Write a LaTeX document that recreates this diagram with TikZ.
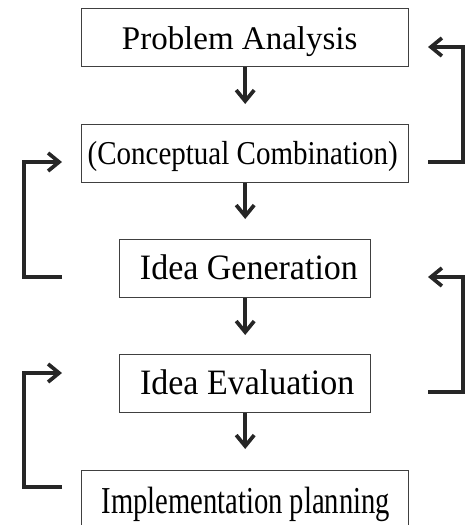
\documentclass[tikz,border=0pt]{standalone}
\usepackage{fontspec}
\setmainfont{Liberation Serif}
\usetikzlibrary{arrows.meta}
\begin{document}
\begin{tikzpicture}[x=1pt,y=-1pt,
  stepbox/.style={draw=black!75, line width=1.4pt, inner sep=0pt, anchor=north west, minimum height=58pt},
  flow/.style={draw=black!85, line width=3.7pt, -{Straight Barb[length=11pt,width=18pt,line width=3.7pt]}},
  loop/.style={flow}]
\useasboundingbox (0,0) rectangle (469,525);
\clip (0,0) rectangle (469,525);
\node[stepbox, minimum width=327pt, text height=24.6pt, text depth=2pt, font=\fontsize{33}{36}\selectfont] (b1) at (81,8) {Problem Analysis\kern11pt};
\node[stepbox, minimum width=327pt, text height=22.6pt, text depth=2pt, font=\fontsize{29}{32}\selectfont] (b2) at (81,124) {\scalebox{1}[1.15]{(Conceptual Combination)}\kern5pt};
\node[stepbox, minimum width=251pt, text height=22.6pt, text depth=2pt, font=\fontsize{34}{36}\selectfont] (b3) at (119,239) {\kern7.5pt\scalebox{1}[1.05]{Idea Generation}};
\node[stepbox, minimum width=251pt, text height=22.6pt, text depth=2pt, font=\fontsize{34}{36}\selectfont] (b4) at (119,354) {\kern4pt\scalebox{1}[1.05]{Idea Evaluation}};
\node[stepbox, minimum width=327pt, text height=30pt, text depth=2pt, font=\fontsize{28.6}{32}\selectfont] (b5) at (81,470) {\kern1pt\scalebox{1}[1.33]{Implementation planning}};
% down arrows
\draw[flow, shorten >=20pt] (b1.south) -- (b2.north);
\draw[flow, shorten >=20pt] (b2.south) -- (b3.north);
\draw[flow, shorten >=19pt] (b3.south) -- (b4.north);
\draw[flow, shorten >=21pt] (b4.south) -- (b5.north);
% feedback coordinates
\coordinate (r1s) at (428,162);
\coordinate (r1e) at (428,47);
\coordinate (l1s) at (62,277);
\coordinate (l1e) at (62,162);
\coordinate (r2s) at (428,392);
\coordinate (r2e) at (428,277);
\coordinate (l2s) at (62,487);
\coordinate (l2e) at (62,373);
\draw[loop] (r1s) -- (463,162) -- (463,47) -- (r1e);
\draw[loop] (l1s) -- (24,277) -- (24,162) -- (l1e);
\draw[loop] (r2s) -- (463,392) -- (463,277) -- (r2e);
\draw[loop] (l2s) -- (24,487) -- (24,373) -- (l2e);
\end{tikzpicture}
\end{document}
